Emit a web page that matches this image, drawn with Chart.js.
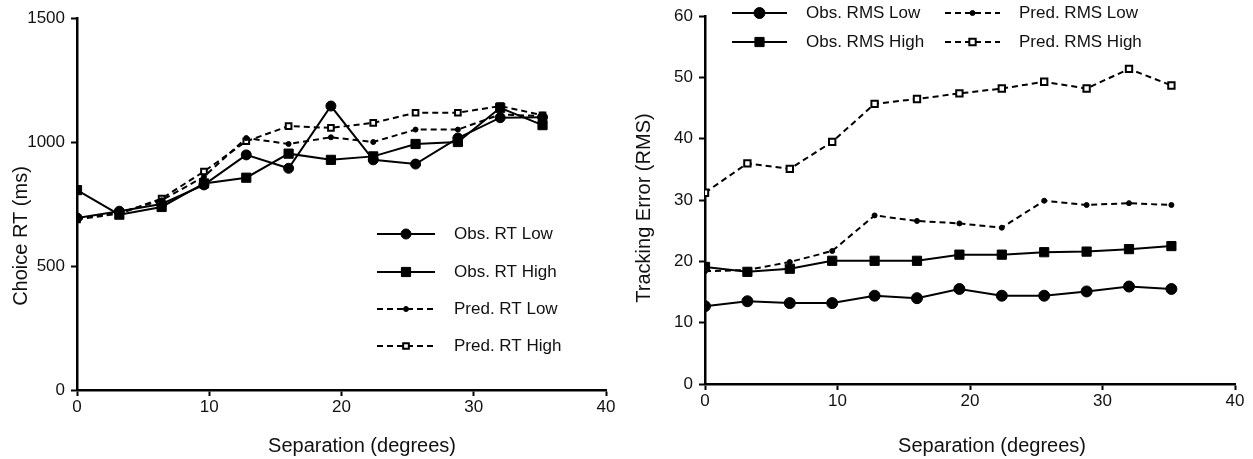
<!DOCTYPE html>
<html>
<head>
<meta charset="utf-8">
<script src="https://cdn.jsdelivr.net/npm/chart.js@4"></script>
<style>
  body { margin: 0; background: #fff; }
  #wrapL { position: absolute; left: 0; top: 0; width: 626px; height: 459px; }
  #wrapR { position: absolute; left: 626px; top: 0; width: 627px; height: 459px; }
</style>
</head>
<body>
<div id="wrapL"><canvas id="rtChart" width="626" height="459"></canvas></div>
<div id="wrapR"><canvas id="rmsChart" width="627" height="459"></canvas></div>
<script>
// separation in degrees
const separation = [0, 3.2, 6.4, 9.6, 12.8, 16, 19.2, 22.4, 25.6, 28.8, 32, 35.2];

// choice RT (ms)
const obsRtLow   = [694, 721, 750, 827, 948, 894, 1145, 928, 911, 1016, 1098, 1100];
const obsRtHigh  = [806, 707, 738, 833, 856, 953, 928, 942, 992, 1000, 1138, 1068];
const predRtLow  = [691, 715, 765, 860, 1016, 992, 1019, 1000, 1050, 1050, 1111, 1104];
const predRtHigh = [688, 711, 772, 881, 1003, 1064, 1057, 1077, 1118, 1118, 1145, 1108];

// tracking error (RMS)
const obsRmsLow   = [12.7, 13.5, 13.2, 13.2, 14.4, 14.0, 15.5, 14.4, 14.4, 15.1, 15.9, 15.5];
const obsRmsHigh  = [19.1, 18.3, 18.8, 20.1, 20.1, 20.1, 21.1, 21.1, 21.5, 21.6, 22.0, 22.5];
const predRmsLow  = [18.4, 18.6, 19.9, 21.7, 27.5, 26.6, 26.2, 25.5, 29.9, 29.2, 29.5, 29.2];
const predRmsHigh = [31.2, 36.0, 35.1, 39.5, 45.7, 46.5, 47.4, 48.2, 49.3, 48.2, 51.4, 48.7];

const FONT = "'Liberation Sans', Arial, sans-serif";
const DASH = [6, 4];

function pts(ys) {
  return separation.map((x, i) => ({ x: x, y: ys[i] }));
}

function series(label, ys, dashed, style, radius, fill) {
  return {
    label: label,
    data: pts(ys),
    borderColor: '#000',
    borderWidth: 2,
    borderDash: dashed ? DASH : [],
    backgroundColor: fill,
    pointStyle: style,
    pointRadius: radius,
    pointHoverRadius: radius,
    pointBorderWidth: fill === '#fff' ? 2 : 1,
    pointBorderColor: '#000',
    pointBackgroundColor: fill,
    tension: 0,
    fill: false
  };
}

// legend + axis titles drawn at fixed spots
const figurePlugin = {
  id: 'figureText',
  afterDraw(chart, args, opts) {
    const ctx = chart.ctx;
    ctx.save();
    chart.data.datasets.forEach((ds, i) => {
      const p = opts.items[i];
      ctx.strokeStyle = '#000';
      ctx.lineWidth = 2;
      ctx.setLineDash(ds.borderDash || []);
      ctx.beginPath();
      ctx.moveTo(p.x, p.y);
      ctx.lineTo(p.x + opts.lineLen, p.y);
      ctx.stroke();
      ctx.setLineDash([]);
      ctx.fillStyle = ds.pointBackgroundColor;
      ctx.strokeStyle = '#000';
      ctx.lineWidth = ds.pointBorderWidth;
      Chart.helpers.drawPoint(ctx, {
        pointStyle: ds.pointStyle, radius: ds.pointRadius, rotation: 0, borderWidth: ds.pointBorderWidth
      }, p.x + opts.lineLen / 2, p.y);
      ctx.fillStyle = '#111';
      ctx.font = '17px ' + FONT;
      ctx.textBaseline = 'middle';
      ctx.textAlign = 'left';
      ctx.fillText(ds.label, p.x + opts.lineLen + opts.gap, p.y);
    });

    ctx.fillStyle = '#111';
    ctx.font = '20px ' + FONT;
    ctx.textAlign = 'center';
    ctx.textBaseline = 'alphabetic';
    ctx.fillText(opts.xTitle.text, opts.xTitle.x, opts.xTitle.y);
    ctx.translate(opts.yTitle.x, opts.yTitle.y);
    ctx.rotate(-Math.PI / 2);
    ctx.textBaseline = 'middle';
    ctx.fillText(opts.yTitle.text, 0, 0);
    ctx.restore();
  }
};

function axes(yMax, yStep, yWidth, xHeight) {
  const grid = {
    display: true, drawOnChartArea: false, drawTicks: true,
    tickLength: 6, tickWidth: 2, tickColor: '#000'
  };
  const border = { display: true, color: '#000', width: 2.5 };
  const tickFont = { family: FONT, size: 17 };
  return {
    x: {
      type: 'linear', min: 0, max: 40,
      ticks: { stepSize: 10, color: '#111', font: tickFont, padding: 1, maxRotation: 0, callback: v => String(v) },
      grid: grid, border: border,
      afterFit(s) { s.height = xHeight; }
    },
    y: {
      type: 'linear', min: 0, max: yMax,
      ticks: { stepSize: yStep, color: '#111', font: tickFont, padding: 6, callback: v => String(v) },
      grid: grid, border: border,
      afterFit(s) { s.width = yWidth; }
    }
  };
}

new Chart(document.getElementById('rtChart'), {
  type: 'line',
  data: {
    datasets: [
      series('Obs. RT Low', obsRtLow, false, 'circle', 5, '#000'),
      series('Obs. RT High', obsRtHigh, false, 'rect', 6.5, '#000'),
      series('Pred. RT Low', predRtLow, true, 'circle', 2.5, '#000'),
      series('Pred. RT High', predRtHigh, true, 'rect', 4, '#fff')
    ]
  },
  options: {
    responsive: false,
    animation: false,
    layout: { padding: { left: 0, top: 18, right: 20, bottom: 0 } },
    scales: axes(1500, 500, 77, 69),
    plugins: {
      legend: { display: false },
      tooltip: { enabled: false },
      figureText: {
        lineLen: 58, gap: 19,
        items: [{ x: 377, y: 234 }, { x: 377, y: 272 }, { x: 377, y: 309 }, { x: 377, y: 346 }],
        xTitle: { text: 'Separation (degrees)', x: 362, y: 452 },
        yTitle: { text: 'Choice RT (ms)', x: 21, y: 236 }
      }
    }
  },
  plugins: [figurePlugin]
});

new Chart(document.getElementById('rmsChart'), {
  type: 'line',
  data: {
    datasets: [
      series('Obs. RMS Low', obsRmsLow, false, 'circle', 5.5, '#000'),
      series('Obs. RMS High', obsRmsHigh, false, 'rect', 6.5, '#000'),
      series('Pred. RMS Low', predRmsLow, true, 'circle', 2.5, '#000'),
      series('Pred. RMS High', predRmsHigh, true, 'rect', 4.5, '#fff')
    ]
  },
  options: {
    responsive: false,
    animation: false,
    layout: { padding: { left: 0, top: 16, right: 18, bottom: 0 } },
    scales: axes(60, 10, 79, 75),
    plugins: {
      legend: { display: false },
      tooltip: { enabled: false },
      figureText: {
        lineLen: 55, gap: 19,
        items: [{ x: 106, y: 13 }, { x: 106, y: 42 }, { x: 319, y: 13 }, { x: 319, y: 42 }],
        xTitle: { text: 'Separation (degrees)', x: 366, y: 452 },
        yTitle: { text: 'Tracking Error (RMS)', x: 18, y: 208 }
      }
    }
  },
  plugins: [figurePlugin]
});
</script>
</body>
</html>
